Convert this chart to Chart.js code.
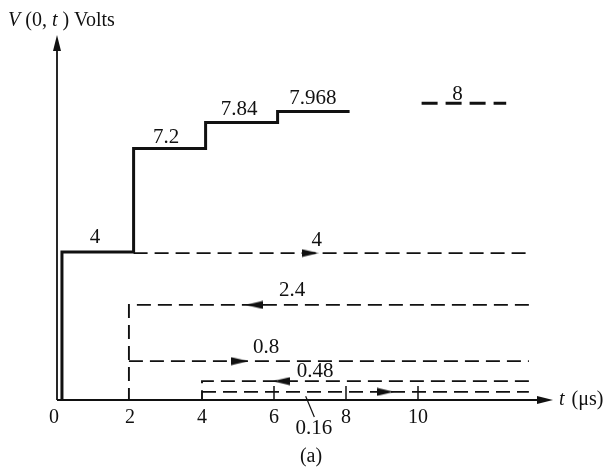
<!DOCTYPE html>
<html>
<head>
<meta charset="utf-8">
<script src="https://cdn.jsdelivr.net/npm/chart.js@4.4.1/dist/chart.umd.min.js"></script>
<style>
  html, body { margin: 0; padding: 0; background: #fff; }
  canvas { display: block; }
</style>
</head>
<body>
<canvas id="chart" width="611" height="468"></canvas>
<script>
// --- Data (heights are as drawn, labels are the true volts) ---

const X_TICKS = [0, 2, 4, 6, 8, 10];

// V(0,t): step instants (µs) and drawn step heights
const STEP_T = [0.11, 2.1, 4.1, 6.1];
const STEP_V = [4, 6.8, 7.5, 7.8];
const STEP_END_T = 8.1;
const STEP_LABELS = ['4', '7.2', '7.84', '7.968'];

// final (steady) value, drawn dashed
const FINAL_T = [10.1, 12.45];
const FINAL_V = 8.02;
const FINAL_LABEL = '8';

// travelling waves: from / to (µs) and drawn height
const WAVE_FROM = [2.1, 13.08, 1.97, 13.08, 4.0];
const WAVE_TO = [13.08, 1.97, 13.08, 4.0, 13.08];
const WAVE_V = [3.97, 2.57, 1.05, 0.51, 0.22];
const WAVE_LABELS = ['4', '2.4', '0.8', '0.48', '0.16'];
const ARROW_T = [7.0, 5.45, 5.05, 6.2, 9.1];

// --- Build datasets from the arrays ---

const stepPoints = [{ x: STEP_T[0], y: 0 }];
STEP_T.forEach((t, i) => {
  if (i > 0) stepPoints.push({ x: t, y: STEP_V[i - 1] });
  stepPoints.push({ x: t, y: STEP_V[i] });
});
stepPoints.push({ x: STEP_END_T, y: STEP_V[STEP_V.length - 1] });

const waveDatasets = WAVE_V.map((v, i) => {
  const pts = [{ x: WAVE_FROM[i], y: v }, { x: WAVE_TO[i], y: v }];
  // reflected (leftward) waves drop down to the axis where they end
  if (WAVE_FROM[i] > WAVE_TO[i]) pts.push({ x: WAVE_TO[i], y: 0 });
  return {
    data: pts,
    showLine: true,
    borderColor: '#111',
    borderWidth: 1.9,
    borderDash: [14, 7],
    pointRadius: 0,
    tension: 0,
  };
});

function makeArrow(dir) {
  const c = document.createElement('canvas');
  c.width = 17; c.height = 9;
  const g = c.getContext('2d');
  g.fillStyle = '#111';
  g.beginPath();
  if (dir > 0) { g.moveTo(0, 0.5); g.lineTo(17, 4.5); g.lineTo(0, 8.5); }
  else { g.moveTo(17, 0.5); g.lineTo(0, 4.5); g.lineTo(17, 8.5); }
  g.closePath();
  g.fill();
  return c;
}
const ARROW_RIGHT = makeArrow(1);
const ARROW_LEFT = makeArrow(-1);

const SERIF = '"Liberation Serif", "DejaVu Serif", serif';

// --- Axes, ticks and text drawn against the chart's scales ---

const figurePlugin = {
  id: 'figure',
  afterDraw(chart) {
    const { ctx, scales: { x, y } } = chart;
    const x0 = x.getPixelForValue(0);
    const y0 = y.getPixelForValue(0);
    const right = chart.chartArea.right;
    const top = chart.chartArea.top;
    ctx.save();
    ctx.strokeStyle = '#111';
    ctx.fillStyle = '#111';
    ctx.lineWidth = 1.8;

    // axes
    ctx.beginPath();
    ctx.moveTo(x0 - 1, y0);
    ctx.lineTo(right - 10, y0);
    ctx.moveTo(x0 - 1, y0);
    ctx.lineTo(x0 - 1, top + 10);
    ctx.stroke();
    ctx.beginPath();
    ctx.moveTo(right, y0);
    ctx.lineTo(right - 16, y0 - 4);
    ctx.lineTo(right - 16, y0 + 4);
    ctx.closePath();
    ctx.fill();
    ctx.beginPath();
    ctx.moveTo(x0 - 1, top);
    ctx.lineTo(x0 - 5, top + 16);
    ctx.lineTo(x0 + 3, top + 16);
    ctx.closePath();
    ctx.fill();

    // small tick marks at 6, 8, 10
    ctx.lineWidth = 1.5;
    X_TICKS.filter(t => t >= 6).forEach(t => {
      const px = x.getPixelForValue(t);
      ctx.beginPath();
      ctx.moveTo(px, y0);
      ctx.lineTo(px, y0 - 14);
      ctx.stroke();
    });

    // tick labels
    ctx.font = '20px ' + SERIF;
    ctx.textAlign = 'center';
    ctx.textBaseline = 'middle';
    X_TICKS.forEach(t => {
      const px = x.getPixelForValue(t) - (t === 0 ? 4 : 0);
      ctx.fillText(String(t), px, y0 + 18);
    });

    // step labels
    ctx.font = '21px ' + SERIF;
    const label = (txt, t, v) => ctx.fillText(txt, x.getPixelForValue(t), y.getPixelForValue(v));
    const stepLabelAt = [[1.03, 4.38], [3.0, 7.1], [5.03, 7.86], [7.08, 8.14]];
    STEP_LABELS.forEach((s, i) => label(s, stepLabelAt[i][0], stepLabelAt[i][1]));
    label(FINAL_LABEL, 11.1, 8.26);

    // wave labels
    const waveLabelAt = [[7.19, 4.32], [6.5, 2.97], [5.78, 1.42], [7.14, 0.76], [7.11, -0.76]];
    WAVE_LABELS.forEach((s, i) => label(s, waveLabelAt[i][0], waveLabelAt[i][1]));

    // leader for 0.16
    ctx.lineWidth = 1.2;
    ctx.beginPath();
    ctx.moveTo(x.getPixelForValue(6.88), y.getPixelForValue(0.1));
    ctx.lineTo(x.getPixelForValue(7.12), y.getPixelForValue(-0.46));
    ctx.stroke();

    // caption
    ctx.font = '20px ' + SERIF;
    ctx.fillText('(a)', 311, 457);

    // axis titles
    ctx.textAlign = 'left';
    let cx = 559;
    ctx.font = 'italic 20px ' + SERIF;
    ctx.fillText('t', cx, y0);
    cx += ctx.measureText('t ').width + 2;
    ctx.font = '20px ' + SERIF;
    ctx.fillText('(\u03bcs)', cx, y0);

    const runs = [['V', true], [' (0, ', false], ['t', true], [' ) Volts', false]];
    cx = 8;
    runs.forEach(([s, it]) => {
      ctx.font = (it ? 'italic ' : '') + '20px ' + SERIF;
      ctx.fillText(s, cx, 21);
      cx += ctx.measureText(s).width;
    });
    ctx.restore();
  },
};

new Chart(document.getElementById('chart'), {
  type: 'scatter',
  data: {
    datasets: [
      {
        data: stepPoints,
        showLine: true,
        borderColor: '#111',
        borderWidth: 3,
        pointRadius: 0,
        tension: 0,
      },
      {
        data: FINAL_T.map(t => ({ x: t, y: FINAL_V })),
        showLine: true,
        borderColor: '#111',
        borderWidth: 3,
        borderDash: [16, 8],
        pointRadius: 0,
      },
      ...waveDatasets,
      {
        data: ARROW_T.map((t, i) => ({ x: t, y: WAVE_V[i] })),
        showLine: false,
        pointStyle: ARROW_T.map((t, i) => (WAVE_FROM[i] < WAVE_TO[i] ? ARROW_RIGHT : ARROW_LEFT)),
        pointRadius: 8,
      },
    ],
  },
  options: {
    responsive: false,
    animation: false,
    layout: { padding: { left: 58, right: 58, top: 35, bottom: 68 } },
    plugins: { legend: { display: false }, tooltip: { enabled: false } },
    scales: {
      x: { type: 'linear', display: false, min: 0, max: 13.75 },
      y: { type: 'linear', display: false, min: 0, max: 9.865 },
    },
  },
  plugins: [figurePlugin],
});
</script>
</body>
</html>
